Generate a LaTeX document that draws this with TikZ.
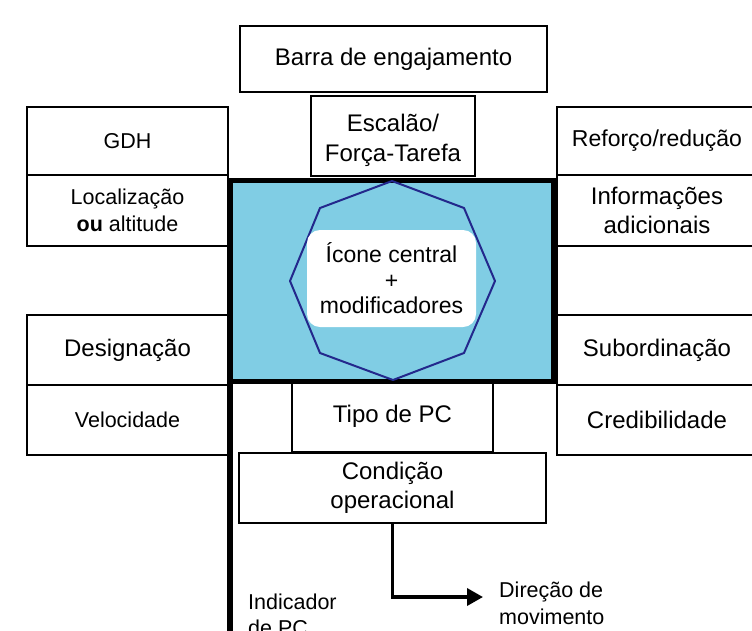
\documentclass[tikz,border=0pt]{standalone}
\usepackage{fontspec}
\setmainfont{Liberation Sans}
\usetikzlibrary{arrows.meta}
\definecolor{iconblue}{RGB}{128,205,228}
\definecolor{octline}{RGB}{35,40,140}
\begin{document}
\begin{tikzpicture}[x=1pt,y=-1pt,
  big/.style={font=\fontsize{24}{29}\selectfont},
  small/.style={font=\fontsize{21.5}{26.5}\selectfont},
  box/.style={draw=black, line width=2pt, inner sep=0pt, align=center, big},
  lbox/.style={box, minimum width=201pt},
  rbox/.style={box, minimum width=200pt},
  plain/.style={inner sep=0pt, align=left},
]
\useasboundingbox (0,0) rectangle (752,630);
\clip (0,0) rectangle (752,630);

% top boxes
\node[box, minimum width=307pt, minimum height=66pt] (barra) at (393.5,59) {Barra de engajamento};
\node[box, minimum width=164pt, minimum height=80pt, text depth=0pt] (esc) at (393,136) {};
\node[align=center, inner sep=0pt, big, font=\fontsize{24}{30}\selectfont] (esctxt) at (393,140) {Escalão/\\Força-Tarefa};

% left column
\node[lbox, small, minimum height=68pt] (gdh) at (127.5,141) {GDH};
\node[lbox, small, minimum height=71pt] (loc) at (127.5,210.5) {Localização\\\textbf{ou} altitude};
\node[lbox, minimum height=70pt] (des) at (127.5,350) {Designação};
\node[lbox, small, minimum height=70pt] (vel) at (127.5,420) {Velocidade};

% right column
\node[rbox, font=\fontsize{23}{28}\selectfont, minimum height=68pt] (ref) at (657,141) {Reforço/redução};
\node[rbox, minimum height=71pt] (inf) at (657,210.5) {Informações\\adicionais};
\node[rbox, minimum height=69pt] (emp) at (657,280.5) {};
\node[rbox, minimum height=70pt] (sub) at (657,350) {Subordinação};
\node[rbox, minimum height=70pt] (cred) at (657,420) {Credibilidade};

% bottom boxes
\node[box, minimum width=201pt, minimum height=71pt] (tipo) at (392.5,416.5) {Tipo de PC};
\node[box, minimum width=307pt, minimum height=70pt] (cond) at (392.5,488) {Condição\\operacional};

% central frame
\node[draw=black, line width=5pt, fill=iconblue, minimum width=323pt, minimum height=201pt, inner sep=0pt] (frame) at (391.5,280.5) {};
\draw[octline, line width=2pt, line join=round]
  (392,181) -- (464,208) -- (495,281) -- (464,353) -- (393,380) -- (320,353) -- (290,281) -- (320,208) -- cycle;
\node[fill=white, rounded corners=13pt, minimum width=169pt, minimum height=97pt, inner sep=0pt] (wbox) at (391.5,278.5) {};
\node[align=center, inner sep=0pt, font=\fontsize{23}{25.5}\selectfont] (icone) at (wbox.center) {Ícone central\\+\\modificadores};

% staff (PC indicator)
\coordinate (stafftop) at (230,178);
\coordinate (staffend) at (230,640);
\draw[line width=6pt] (stafftop) -- (staffend);

% direction of movement arrow
\coordinate (dirend) at (483,597);
\draw[line width=3.5pt, -{Triangle[length=16pt,width=17pt]}] (cond.south -| 392.5,0) |- (dirend);

\node[plain, small, anchor=west] (dirtxt) at (499,603.5) {Direção de\\movimento};
\node[plain, small, anchor=west] (indtxt) at (248,615) {Indicador\\de PC};
\end{tikzpicture}
\end{document}
